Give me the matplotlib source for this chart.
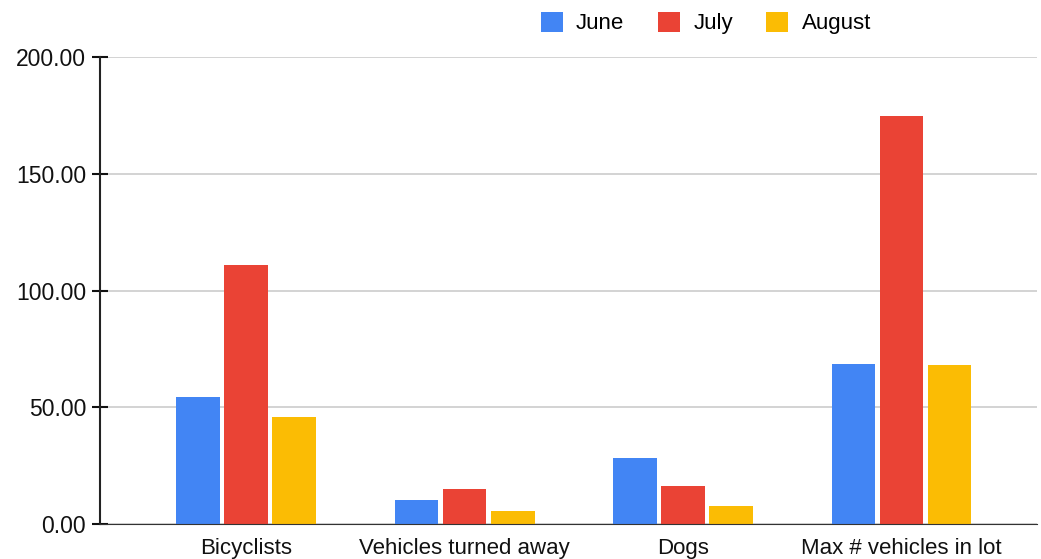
import matplotlib.pyplot as plt
import numpy as np

categories = ['Bicyclists', 'Vehicles turned away', 'Dogs', 'Max # vehicles in lot']
months = ['June', 'July', 'August']
june = [54.3, 10.3, 28.3, 68.4]
july = [111.1, 15.0, 16.4, 174.7]
august = [45.7, 5.4, 7.8, 67.9]
colors = ['#4285f4', '#ea4335', '#fbbc04']

plt.rcParams['font.family'] = ['Liberation Sans', 'DejaVu Sans']

fig = plt.figure(figsize=(10.41, 5.59), dpi=100)
ax = fig.add_axes([0.096, 0.0626, 0.9, 0.8354])

x = np.arange(len(categories))
w = 0.2
step = 0.22
for i, (vals, name) in enumerate(zip([june, july, august], months)):
    ax.bar(x + (i - 1) * step, vals, width=w, color=colors[i], label=name, zorder=3)

ax.set_ylim(0, 200)
ax.set_xlim(-0.67, 3.62)
ax.set_yticks([0, 50, 100, 150, 200])
ax.set_yticklabels(['%.2f' % v for v in [0, 50, 100, 150, 200]])
ax.set_xticks(x)
ax.set_xticklabels(categories)
ax.tick_params(axis='y', direction='inout', length=12, width=1.5, labelsize=16.5, pad=4, colors='#111111')
ax.tick_params(axis='x', length=0, labelsize=16, pad=10, colors='#111111')
ax.grid(axis='y', color='#cccccc', linewidth=1.2, zorder=0)
for s in ['top', 'right']:
    ax.spines[s].set_visible(False)
ax.spines['left'].set_linewidth(1.5)
ax.spines['left'].set_color('#222222')
ax.spines['bottom'].set_color('#333333')
ax.spines['bottom'].set_zorder(4)

fig.legend(loc='upper center', bbox_to_anchor=(0.678, 1.015), ncol=3, frameon=False,
           fontsize=16, handlelength=1.0, handleheight=1.0, columnspacing=1.5, handletextpad=0.6)

fig.savefig('out.png', dpi=100)
